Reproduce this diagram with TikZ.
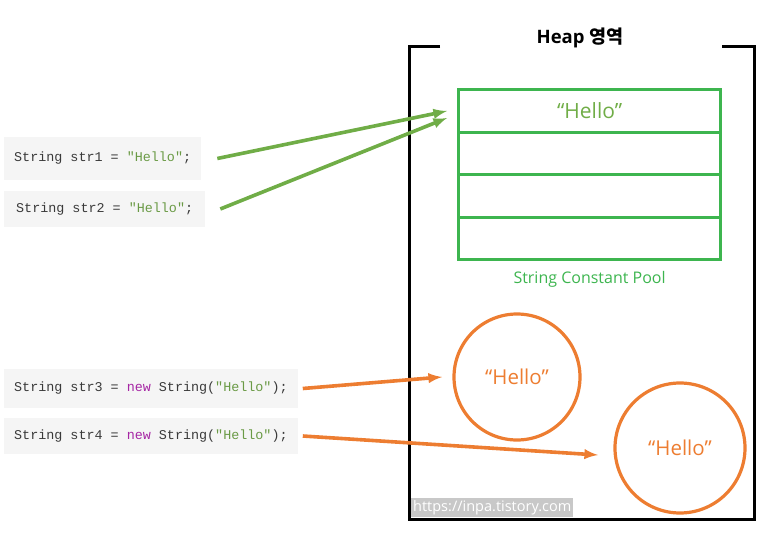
\documentclass[tikz,border=0pt]{standalone}
\usepackage{fontspec}
\setmainfont{Open Sans}
\setmonofont{Liberation Mono}
\newfontfamily\krfont{Noto Sans CJK KR}
\usetikzlibrary{positioning}
\definecolor{poolGreen}{HTML}{3DB54F}
\definecolor{arrowGreen}{HTML}{70AD47}
\definecolor{heapOrange}{HTML}{ED7D31}
\definecolor{codeGray}{HTML}{F5F5F5}
\definecolor{codeText}{HTML}{3A3A3A}
\definecolor{codeString}{HTML}{6A9A45}
\definecolor{codeKeyword}{HTML}{A626A4}
\definecolor{markGray}{HTML}{C8C8C8}
\newcommand{\str}[1]{\textcolor{codeString}{#1}}
\newcommand{\kw}[1]{\textcolor{codeKeyword}{#1}}

\begin{document}
\begin{tikzpicture}[x=1pt, y=-1pt, inner sep=0pt, align=center,
    code/.style={fill=codeGray, anchor=west, inner xsep=10pt, text=codeText, font=\ttfamily\fontsize{13.4}{16}\selectfont}]
    \pgfmathsetmacro{\poolWidth}{262}
    \pgfmathsetmacro{\rowHeight}{42.5}
    \pgfmathsetmacro{\lineWidth}{3.2}
    \pgfmathsetmacro{\arrowWidth}{3.6}

    \useasboundingbox (0,0) rectangle (771,546);

    % heap area
    \node (heap) [font=\bfseries\fontsize{18.5}{21}\selectfont] at (580,38) {Heap {\krfont 영역}};
    \draw [line width=3] (440,46) -| (409,519) -| (754,46) -- (722,46);

    % string constant pool
    \node (pool_0) [draw=poolGreen, line width=\lineWidth, minimum width=\poolWidth, minimum height=\rowHeight, anchor=north west, text=arrowGreen, font=\fontsize{21}{24}\selectfont] at (457,88) {“Hello”};
    \foreach \x in {1,...,3} {
        \pgfmathtruncatemacro{\prev}{\x-1}
        \node (pool_\x) [draw=poolGreen, line width=\lineWidth, minimum width=\poolWidth, minimum height=\rowHeight, below=-\lineWidth pt of pool_\prev] {};
    }
    \node (pool_label) [text=poolGreen, font=\fontsize{16}{18}\selectfont, below=10pt of pool_3] {String Constant Pool};

    % objects made with new
    \node (obj_1) [circle, draw=heapOrange, line width=\lineWidth, minimum size=126, text=heapOrange, font=\fontsize{20.5}{24}\selectfont] at (517,377) {“Hello”};
    \node (obj_2) [circle, draw=heapOrange, line width=\lineWidth, minimum size=130, text=heapOrange, font=\fontsize{20.5}{24}\selectfont] at (680,448) {“Hello”};

    % code
    \node (str1) [code, minimum height=43] at (4,158.5) {String str1 = \str{"Hello"};};
    \node (str2) [code, minimum height=36, inner xsep=12pt] at (4,209) {String str2 = \str{"Hello"};};
    \node (str3) [code, minimum height=39] at (4,388.5) {String str3 = \kw{new} String(\str{"Hello"});};
    \node (str4) [code, minimum height=36] at (4,436) {String str4 = \kw{new} String(\str{"Hello"});};

    \coordinate (pool_in_1) at (447,111);
    \coordinate (pool_in_2) at (447,118);
    \coordinate (obj_in_1) at (442,377);
    \coordinate (obj_in_2) at (598,455);

    \draw [-latex, line width=\arrowWidth, draw=arrowGreen, fill=arrowGreen] ([xshift=16pt]str1.east) -- (pool_in_1);
    \draw [-latex, line width=\arrowWidth, draw=arrowGreen, fill=arrowGreen] ([xshift=15pt]str2.east) -- (pool_in_2);
    \draw [-latex, line width=\arrowWidth, draw=heapOrange, fill=heapOrange] ([xshift=5pt]str3.east) -- (obj_in_1);
    \draw [-latex, line width=\arrowWidth, draw=heapOrange, fill=heapOrange] ([xshift=5pt]str4.east) -- (obj_in_2);

    \node (mark) [fill=markGray, text=white, anchor=south west, inner sep=2pt, font=\fontsize{14.5}{16}\selectfont] at (411,517) {https://inpa.tistory.com};

\end{tikzpicture}
\end{document}
